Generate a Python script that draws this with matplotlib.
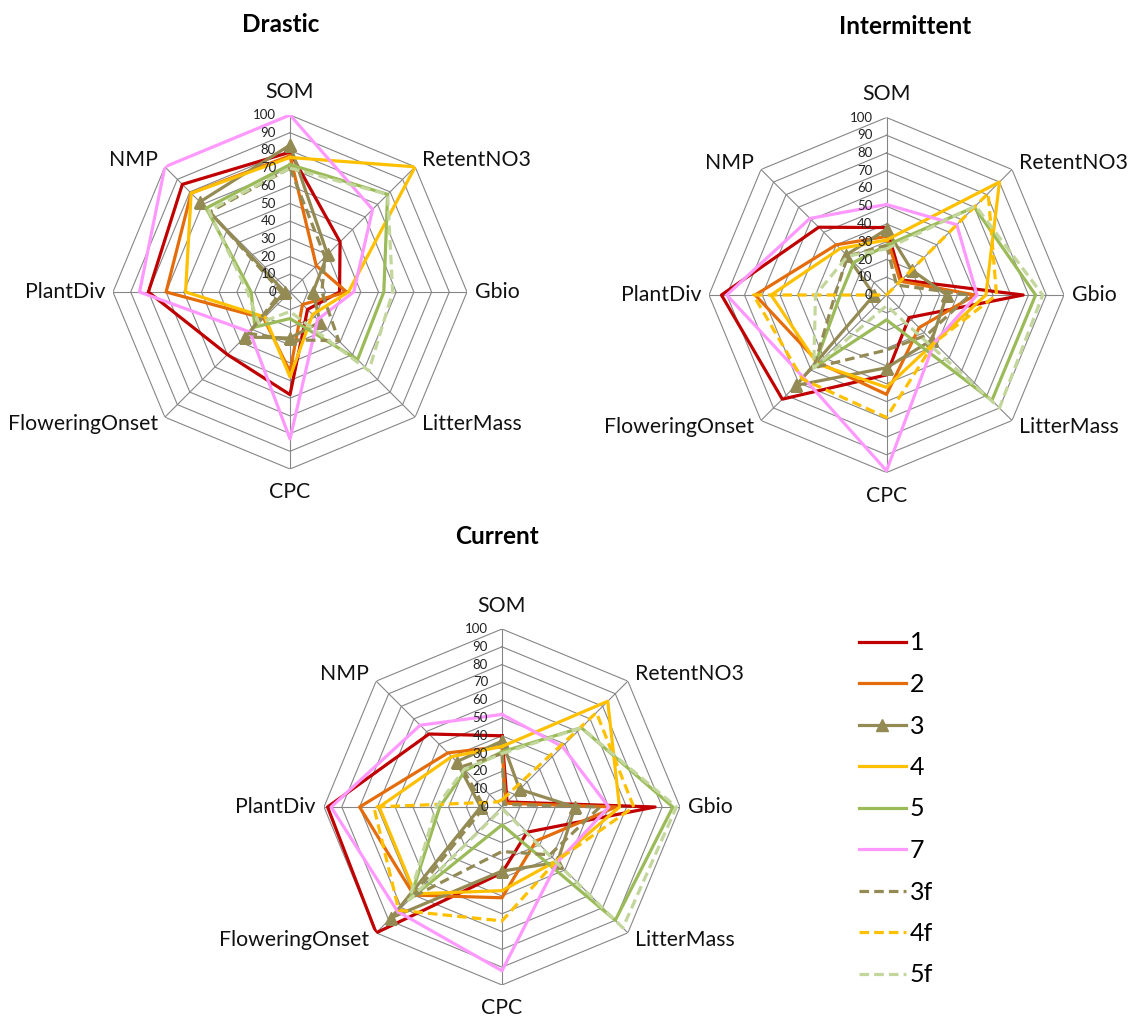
import matplotlib.pyplot as plt
from matplotlib.lines import Line2D
import numpy as np

plt.rcParams['font.family'] = ['Lato', 'DejaVu Sans']

categories = ['SOM', 'RetentNO3', 'Gbio', 'LitterMass', 'CPC',
              'FloweringOnset', 'PlantDiv', 'NMP']
series = ['1', '2', '3', '4', '5', '7', '3f', '4f', '5f']
ticks = list(range(0, 101, 10))

nan = np.nan
drastic = {
    '1':  [79, 40, 28, 14, 58, 50, 80, 86],
    '2':  [77, 21, 32, 10, 45, 21, 70, 79],
    '3':  [83, 30, 13, 24, 26, 36, 3, 72],
    '4':  [76, 100, 33, 18, 48, 20, 59, 79],
    '5':  [72, 78, 53, 54, 15, 28, 22, 67],
    '7':  [100, 66, 36, 22, 83, 32, 85, 100],
    '3f': [70, 28, 18, 39, 27, 33, 5, 64],
    '4f': [nan] * 8,
    '5f': [70, 78, 58, 63, 11, 25, 24, 65],
}
intermittent = {
    '1':  [38, 12, 77, 18, 45, 83, 93, 54],
    '2':  [33, 11, 50, 26, 56, 54, 74, 40],
    '3':  [37, 20, 34, 36, 41, 72, 7, 32],
    '4':  [31, 90, 56, 38, 52, 55, 65, 37],
    '5':  [28, 70, 84, 84, 14, 58, 26, 26],
    '7':  [51, 56, 51, 38, 99, 66, 90, 61],
    '3f': [28, 8, 47, 32, 31, 58, 29, 31],
    '4f': [0, 81, 62, 38, 69, 67, 75, 0],
    '5f': [26, 71, 88, 90, 6, 58, 40, 31],
}
current = {
    '1':  [40, 4, 86, 20, 37, 100, 98, 58],
    '2':  [34, 3, 64, 27, 51, 70, 80, 43],
    '3':  [37, 14, 41, 44, 36, 88, 12, 36],
    '4':  [34, 84, 66, 43, 47, 69, 69, 40],
    '5':  [31, 63, 96, 90, 10, 73, 35, 29],
    '7':  [52, 48, 60, 44, 92, 83, 96, 65],
    '3f': [30, 2, 55, 38, 25, 72, 10, 32],
    '4f': [4, 75, 74, 43, 64, 82, 72, 4],
    '5f': [30, 63, 98, 96, 1, 74, 37, 30],
}

colors = {'1': '#C00000', '2': '#E46C0A', '3': '#948A54', '4': '#FFC000',
          '5': '#9BBB59', '7': '#FF99FF', '3f': '#948A54', '4f': '#FFC000',
          '5f': '#C3D69B'}
dash = (0, (3, 1.6))
grid_col = '#868686'

W, H = 1131, 1019
fig = plt.figure(figsize=(W / 100, H / 100), dpi=100)


def radar(data, title, cx, cy, R, title_xy):
    ax = fig.add_axes([(cx - R) / W, 1 - (cy + R) / H, 2 * R / W, 2 * R / H],
                      projection='polar')
    ax.set_theta_zero_location('N')
    ax.set_theta_direction(-1)
    ax.set_ylim(0, 100)
    ax.axis('off')

    n = len(categories)
    theta = np.linspace(0, 2 * np.pi, n, endpoint=False)
    tc = np.append(theta, theta[0])

    for v in ticks[1:]:
        ax.plot(tc, [v] * (n + 1), color=grid_col, lw=0.8, zorder=1)
    for t in theta:
        ax.plot([t, t], [0, 100], color=grid_col, lw=0.8, zorder=1)

    for v in ticks:
        ax.annotate(str(v), xy=(0, v), xytext=(-10, 0), textcoords='offset points',
                    ha='right', va='center', fontsize=9.5, color='#222222', zorder=5)

    for s in series:
        vals = np.array(data[s], dtype=float)
        vc = np.append(vals, vals[0])
        ls = dash if s.endswith('f') else '-'
        mk = '^' if s == '3' else None
        ax.plot(tc, vc, color=colors[s], lw=2.3, linestyle=ls, marker=mk,
                markersize=8, zorder=3)

    for t, name in zip(theta, categories):
        deg = np.degrees(t)
        if deg in (0, 180):
            r, ha = 113, 'center'
        elif deg in (90, 270):
            r, ha = 104.5, 'left' if deg == 90 else 'right'
        else:
            r, ha = 105.5, 'left' if deg < 180 else 'right'
        ax.text(t, r, name, ha=ha, va='center', fontsize=15.3, color='#111111')

    fig.text(title_xy[0] / W, 1 - title_xy[1] / H, title, ha='center',
             va='center', fontsize=17.5, fontweight='bold')


radar(drastic, 'Drastic', 290, 292, 177, (281, 24))
radar(intermittent, 'Intermittent', 886.5, 295, 177.5, (905, 27))
radar(current, 'Current', 502, 807, 178, (497, 537))

handles = []
for s in series:
    ls = dash if s.endswith('f') else '-'
    mk = '^' if s == '3' else None
    handles.append(Line2D([], [], color=colors[s], lw=2.3, linestyle=ls,
                          marker=mk, markersize=8))
fig.legend(handles, series, loc='upper left',
           bbox_to_anchor=(836 / W, 1 - 609 / H), frameon=False,
           fontsize=18, handlelength=1.9, handletextpad=0.15, labelspacing=0.74)

fig.savefig('out.png', dpi=100)
